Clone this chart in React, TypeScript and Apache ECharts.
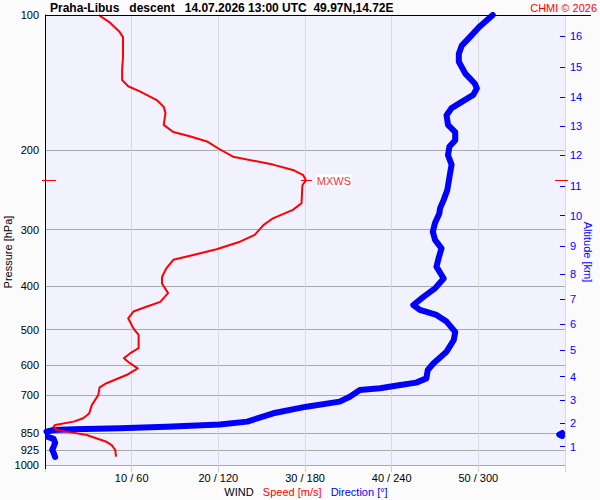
import React, { useEffect, useRef } from 'react';
import * as echarts from 'echarts';

// Wind speed profile (pressure hPa, speed m/s), top-down
const speedP = [100, 104, 109, 112, 124, 132.5, 139.5, 144, 148, 154.5, 160, 165, 175.5, 182, 186, 191, 198, 206.5, 215, 221, 227, 233, 239, 262, 271, 283, 293, 308, 319, 331.5, 341.5, 350, 365.5, 382, 395, 415, 434, 445, 456, 472, 497, 514, 550, 565, 579, 594, 610, 631, 658, 672, 699, 736, 768, 787, 801, 815, 822, 836, 843, 858, 888, 903, 926, 958];
const speedV = [6.2, 7.5, 8.6, 9.0, 9.0, 8.9, 8.9, 9.6, 11.0, 12.9, 13.7, 13.9, 13.7, 14.8, 16.7, 18.7, 20.0, 21.7, 26.3, 28.6, 29.8, 30.1, 29.7, 29.6, 28.6, 26.3, 25.2, 24.2, 22.5, 19.8, 17.1, 14.8, 14.0, 13.5, 13.5, 14.2, 13.3, 11.7, 10.2, 9.6, 10.2, 10.8, 10.8, 9.8, 9.1, 9.8, 10.7, 9.4, 7.1, 6.3, 6.15, 5.4, 5.1, 4.4, 3.3, 1.15, 1.0, 1.35, 2.5, 4.8, 7.1, 7.7, 8.1, 8.2];

// Wind direction profile (pressure hPa, direction deg), top-down
const dirP = [100, 106, 113, 117, 122, 127, 135, 142, 145.5, 150.5, 156, 161, 167, 175.5, 182, 190, 196, 205, 215, 229, 245, 257.5, 269, 276, 290, 303, 316, 330, 347, 362.5, 385, 405, 423, 441, 452, 464, 480, 506, 527.5, 560, 594, 615, 642, 656, 664, 675.5, 681, 705, 723, 742, 767.5, 801, 813, 822, 829, 833, 836, 843, 849, 856, 862, 866, 875, 893, 910, 926, 940, 960];
const dirV = [310, 301, 293, 288.5, 286.5, 286.5, 291, 297.5, 299, 296.5, 288.5, 281.5, 278, 279, 284, 284, 280, 279, 281.5, 280, 278.5, 276, 273.5, 273, 270, 268.5, 270, 274.5, 272.5, 271, 276, 270, 262, 255, 259.5, 271, 278, 284, 283, 278, 269, 265, 264, 257, 246, 232, 218, 211, 204, 181, 158, 140, 121, 84, 52, 20, 6, 1, 358, 356, 358, 2, 6, 7, 6, 5, 6, 7];

// Axis ticks
const pressureTicks = [100, 200, 300, 400, 500, 600, 700, 850, 925, 1000];
const speedTicks = [10, 20, 30, 40, 50];
const altKm = [1, 2, 3, 4, 5, 6, 7, 8, 9, 10, 11, 12, 13, 14, 15, 16];
const altP = [910.7, 806.7, 717, 636.5, 555, 486, 427.7, 376, 326, 279, 240, 204.7, 176.5, 152, 130.5, 111.3];

const FONT = '"Liberation Sans", Arial, Helvetica, sans-serif';
const lg = (p: number) => Math.log10(p);
const PMIN = lg(100);
const PMAX = lg(1000);

function buildOption() {
  const speedData = speedP.map((p, i) => [speedV[i], lg(p)]);
  const dirData: any[] = [];
  dirP.forEach((p, i) => {
    if (i > 0 && Math.abs(dirV[i] - dirV[i - 1]) > 180) dirData.push(['-', '-']);
    dirData.push([dirV[i], lg(p)]);
  });
  let mi = 0;
  speedV.forEach((v, i) => { if (v > speedV[mi]) mi = i; });
  const mxws = [[speedV[mi], lg(speedP[mi])]];

  return {
    animation: false,
    backgroundColor: '#fbfbfb',
    textStyle: { fontFamily: FONT },
    grid: {
      left: 45, right: 35, top: 15, bottom: 35,
      show: true, backgroundColor: '#f2f2ff', borderWidth: 0,
      containLabel: false, outerBoundsMode: 'none',
    },
    xAxis: [
      {
        type: 'value', min: 0, max: 60, interval: 10, position: 'bottom',
        axisLine: { show: false, onZero: false },
        axisTick: { show: true, length: 7, lineStyle: { color: '#d0d0d0' } },
        splitLine: { show: true, lineStyle: { color: '#d9d9d9', width: 1 } },
        axisLabel: {
          margin: 7, fontSize: 11, color: '#000', fontFamily: FONT,
          formatter: (v: number) => (speedTicks.includes(v) ? `${v} / ${v * 6}` : ''),
        },
      },
      { type: 'value', min: 0, max: 360, show: false, axisLine: { onZero: false } },
    ],
    yAxis: [
      {
        type: 'value', min: PMIN, max: PMAX, inverse: true, position: 'left',
        axisLine: { show: true, onZero: false, lineStyle: { color: '#000', width: 1 } },
        axisTick: { show: false, customValues: pressureTicks.map(lg) },
        splitLine: { show: true, lineStyle: { color: '#a9a9a9', width: 1 } },
        axisLabel: {
          customValues: pressureTicks.map(lg),
          margin: 6, fontSize: 11, color: '#000', fontFamily: FONT,
          formatter: (v: number) => String(Math.round(Math.pow(10, v))),
        },
      },
      {
        type: 'value', min: PMIN, max: PMAX, inverse: true, position: 'right',
        axisLine: { show: false, onZero: false },
        axisTick: { show: true, inside: true, length: 5, customValues: altP.map(lg), lineStyle: { color: '#0000ff', width: 1 } },
        splitLine: { show: false },
        axisLabel: {
          customValues: altP.map(lg),
          margin: 5, fontSize: 11, color: '#0000ff', fontFamily: FONT,
          formatter: (v: number) => {
            let best = 0;
            altP.forEach((p, i) => { if (Math.abs(lg(p) - v) < Math.abs(lg(altP[best]) - v)) best = i; });
            return String(altKm[best]);
          },
        },
      },
    ],
    series: [
      {
        name: 'Direction', type: 'line', xAxisIndex: 1, yAxisIndex: 0,
        data: dirData, showSymbol: false, symbol: 'none', connectNulls: false,
        lineStyle: { color: '#0000ff', width: 6, cap: 'round', join: 'round' },
        z: 3,
      },
      {
        name: 'Speed', type: 'line', xAxisIndex: 0, yAxisIndex: 0,
        data: speedData, showSymbol: false, symbol: 'none',
        lineStyle: { color: '#ff0000', width: 2, join: 'round' },
        z: 4,
      },
      {
        name: 'MXWS', type: 'custom', xAxisIndex: 0, yAxisIndex: 0, data: mxws, z: 6, clip: false,
        renderItem: (params: any, api: any) => {
          const pt = api.coord([api.value(0), api.value(1)]);
          const cs = params.coordSys;
          const y = Math.round(pt[1]) + 0.5;
          const st = { stroke: '#ff0000', lineWidth: 1 };
          return {
            type: 'group',
            children: [
              { type: 'line', shape: { x1: pt[0] - 5, y1: y, x2: pt[0] + 6, y2: y }, style: st },
              { type: 'line', shape: { x1: cs.x - 3, y1: y, x2: cs.x + 11, y2: y }, style: st },
              { type: 'line', shape: { x1: cs.x + cs.width - 10, y1: y, x2: cs.x + cs.width + 3, y2: y }, style: st },
              {
                type: 'text', x: pt[0] + 10, y: y,
                style: {
                  text: 'MXWS', fill: '#ff3030', font: `11px ${FONT}`,
                  align: 'left', verticalAlign: 'middle', textAlign: 'left', textVerticalAlign: 'middle',
                  backgroundColor: '#ffffff', padding: [1, 1, 0, 1],
                },
              },
            ],
          };
        },
      },
    ],
    graphic: [
      { type: 'line', shape: { x1: 45, y1: 15.5, x2: 591, y2: 15.5 }, style: { stroke: '#000', lineWidth: 1 }, z: 100 },
      { type: 'line', shape: { x1: 45.5, y1: 465, x2: 45.5, y2: 469 }, style: { stroke: '#000', lineWidth: 1 }, z: 100 },
      {
        type: 'text', x: 50, y: 8, z: 100,
        style: {
          text: 'Praha-Libus   descent   14.07.2026 13:00 UTC  49.97N,14.72E',
          font: `bold 12px ${FONT}`, fill: '#000',
          align: 'left', verticalAlign: 'middle', textAlign: 'left', textVerticalAlign: 'middle',
        },
      },
      {
        type: 'text', x: 597, y: 8, z: 100,
        style: {
          text: 'CHMI © 2026', font: `11px ${FONT}`, fill: '#ff0000',
          align: 'right', verticalAlign: 'middle', textAlign: 'right', textVerticalAlign: 'middle',
        },
      },
      {
        type: 'text', x: 8, y: 252, rotation: Math.PI / 2, z: 100,
        style: {
          text: 'Pressure [hPa]', font: `11px ${FONT}`, fill: '#000',
          align: 'center', verticalAlign: 'middle', textAlign: 'center', textVerticalAlign: 'middle',
        },
      },
      {
        type: 'text', x: 588, y: 252, rotation: -Math.PI / 2, z: 100,
        style: {
          text: 'Altitude [km]', font: `11px ${FONT}`, fill: '#0000ff',
          align: 'center', verticalAlign: 'middle', textAlign: 'center', textVerticalAlign: 'middle',
        },
      },
      {
        type: 'text', x: 306, y: 492, z: 100,
        style: {
          text: '{a|WIND}   {b|Speed [m/s]}   {c|Direction [°]}',
          font: `11px ${FONT}`,
          align: 'center', verticalAlign: 'middle', textAlign: 'center', textVerticalAlign: 'middle',
          rich: {
            a: { fill: '#000', color: '#000', font: `11px ${FONT}` },
            b: { fill: '#ff0000', color: '#ff0000', font: `11px ${FONT}` },
            c: { fill: '#0000ff', color: '#0000ff', font: `11px ${FONT}` },
          },
        },
      },
    ],
  };
}

export default function App() {
  const ref = useRef<HTMLDivElement>(null);
  useEffect(() => {
    if (!ref.current) return;
    const chart = echarts.init(ref.current, null, { renderer: 'svg' });
    chart.setOption(buildOption() as any);
    return () => chart.dispose();
  }, []);
  return <div ref={ref} style={{ position: 'fixed', left: 0, top: 0, width: 600, height: 500 }} />;
}
